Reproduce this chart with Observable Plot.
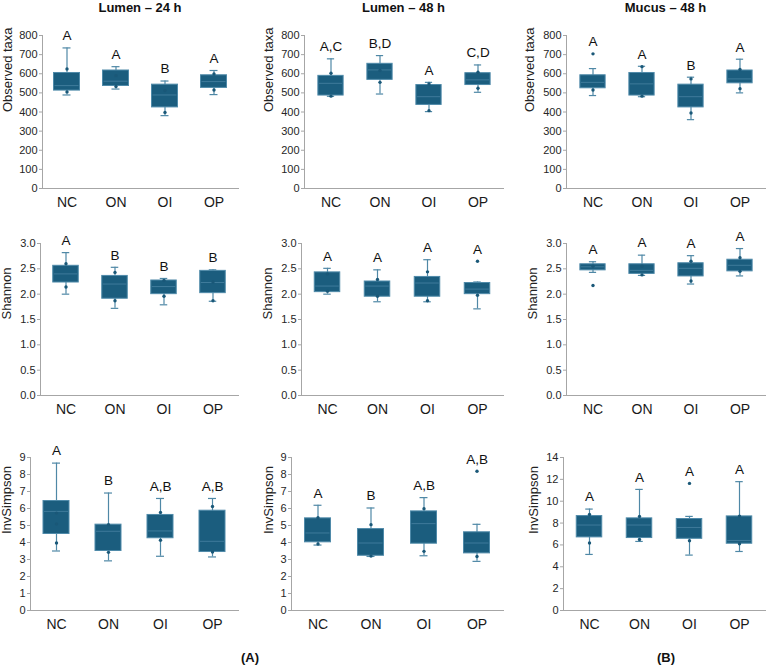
<!DOCTYPE html>
<html><head><meta charset="utf-8">
<script src="https://cdn.jsdelivr.net/npm/d3@7"></script>
<script src="https://cdn.jsdelivr.net/npm/@observablehq/plot@0.6"></script>
<style>
body{margin:0;background:#fff;}
#chart{position:relative;width:767px;height:666px;overflow:hidden;font-family:"Liberation Sans",Arial,sans-serif;background:#fff;}
.ttl{position:absolute;font-weight:bold;font-size:13px;line-height:14px;text-align:center;color:#111;white-space:nowrap;width:200px;}
#chart svg{position:absolute;overflow:visible;}
</style></head><body><div id="chart"></div>
<script>
// ---------- DATA ----------
const groups = ["NC", "ON", "OI", "OP"];
const columnTitles = ["Lumen – 24 h", "Lumen – 48 h", "Mucus – 48 h"];
const metricLabels = ["Observed taxa", "Shannon", "InvSimpson"];
const partLabels = ["(A)", "(B)"];

// panels in row-major order: Observed (L24, L48, M48), Shannon (...), InvSimpson (...)
const whiskerLow = [
  [489, 520, 381, 491], [482, 494, 402, 503], [486, 480, 360, 500],
  [2.00, 1.72, 1.79, 1.86], [2.00, 1.85, 1.85, 1.71], [2.43, 2.37, 2.20, 2.36],
  [3.50, 2.92, 3.19, 3.15], [3.85, 3.18, 3.22, 2.89], [5.13, 6.32, 5.07, 5.40]
];
const quartile1 = [
  [512, 536, 424, 526], [486, 568, 437, 541], [524, 486, 424, 550],
  [2.23, 1.91, 2.00, 2.02], [2.04, 1.95, 1.95, 2.00], [2.47, 2.40, 2.35, 2.45],
  [4.50, 3.50, 4.25, 3.44], [4.01, 3.22, 3.93, 3.36], [6.69, 6.63, 6.56, 6.11]
];
const medianVal = [
  [538, 561, 489, 559], [550, 620, 480, 568], [555, 547, 480, 573],
  [2.40, 2.20, 2.15, 2.23], [2.16, 2.16, 2.22, 2.10], [2.54, 2.47, 2.51, 2.57],
  [5.83, 4.66, 4.68, 4.07], [4.56, 3.97, 5.11, 3.97], [7.82, 7.82, 7.60, 6.41]
];
const quartile3 = [
  [604, 617, 543, 592], [589, 652, 541, 603], [592, 604, 543, 617],
  [2.56, 2.36, 2.27, 2.46], [2.43, 2.25, 2.34, 2.22], [2.59, 2.59, 2.61, 2.68],
  [6.44, 5.05, 5.62, 5.87], [5.42, 4.79, 5.83, 4.60], [8.64, 8.43, 8.37, 8.61]
];
const whiskerHigh = [
  [735, 637, 562, 617], [678, 695, 555, 646], [627, 639, 582, 676],
  [2.82, 2.53, 2.31, 2.48], [2.51, 2.48, 2.68, 2.24], [2.64, 2.77, 2.76, 2.90],
  [8.67, 6.91, 6.59, 6.59], [6.19, 6.03, 6.64, 5.07], [9.28, 11.08, 8.61, 11.79]
];
const samplePoints = [
  [[625, 505], [590, 533], [512, 398], [599, 515]],
  [[603, 483], [617, 555], [547, 407], [608, 524]],
  [[704, 515], [637, 483], [573, 395], [622, 522]],
  [[2.60, 2.14], [2.43, 1.87], [2.27, 1.96], [2.24, 1.87]],
  [[2.40, 2.06], [2.29, 1.96], [2.44, 1.87], [2.65, 1.98]],
  [[2.55, 2.17], [2.55, 2.38], [2.65, 2.26], [2.72, 2.45]],
  [[5.73, 5.09, 3.97], [5.05, 3.42], [5.77, 4.13], [6.12, 3.44]],
  [[5.46, 3.91], [5.05, 3.20], [5.99, 3.48], [8.19, 3.18]],
  [[8.79, 6.17], [8.61, 6.50], [11.63, 6.38], [8.64, 6.11]]
];
const letters = [
  ["A", "A", "B", "A"], ["A,C", "B,D", "A", "C,D"], ["A", "A", "B", "A"],
  ["A", "B", "B", "B"], ["A", "A", "A", "A"], ["A", "A", "A", "A"],
  ["A", "B", "A,B", "A,B"], ["A", "B", "A,B", "A,B"], ["A", "A", "A", "A"]
];
const yMax = [800, 800, 800, 3, 3, 3, 9, 9, 14];
const obsTicks = [0, 100, 200, 300, 400, 500, 600, 700, 800];
const shannonTicks = [0, 0.5, 1.0, 1.5, 2.0, 2.5, 3.0];
const invTicks = [0, 1, 2, 3, 4, 5, 6, 7, 8, 9];
const invTicksMucus = [0, 2, 4, 6, 8, 10, 12, 14];
const panelTicks = [obsTicks, obsTicks, obsTicks, shannonTicks, shannonTicks, shannonTicks, invTicks, invTicks, invTicksMucus];

// ---------- LAYOUT ----------
const frameY = [[35, 188], [243, 395], [457, 610]];
const frameX = [
  [[42, 238], [304, 503], [566, 765]],
  [[40, 238], [301, 503], [566, 765]],
  [[30, 238], [291, 503], [563, 765]]
];
const labelOffset = [[35, 36, 37], [34, 34, 34], [24, 23, 30]];
const FONT = '"Liberation Sans", Arial, sans-serif';
const BOX = "#1b5d7e", EDGE = "#4f8aa9", WH = "#4f88a6", MED = "#3f7b9b", DOT = "#1a5878", AXIS = "#a6a6a6";
const MT = 22, MB = 26, ML = 44, MR = 2;

const root = document.getElementById("chart");

for (let r = 0; r < 3; r++) {
  for (let c = 0; c < 3; c++) {
    const p = r * 3 + c;
    const [x0, x1] = frameX[r][c];
    const [y0, y1] = frameY[r];
    const W = ML + (x1 - x0) + MR, H = MT + (y1 - y0) + MB;
    const bw = (x1 - x0) / 4;
    const boxInset = (bw - 26) / 2, capInset = (bw - 8) / 2;
    const rows = groups.map((g, i) => ({
      g, lo: whiskerLow[p][i], q1: quartile1[p][i], med: medianVal[p][i], q3: quartile3[p][i], hi: whiskerHigh[p][i]
    }));
    const pts = groups.flatMap((g, i) => samplePoints[p][i].map(v => ({g, v})));
    const labs = groups.map((g, i) => ({g, t: letters[p][i], top: Math.max(whiskerHigh[p][i], ...samplePoints[p][i])}));
    const fmt = r === 1 ? d3.format(".1f") : d3.format("d");
    const svg = Plot.plot({
      width: W, height: H,
      marginTop: MT, marginBottom: MB, marginLeft: ML, marginRight: MR,
      style: {fontFamily: FONT, background: "transparent", overflow: "visible"},
      x: {domain: groups, padding: 0},
      y: {domain: [0, yMax[p]]},
      marks: [
        Plot.axisY({ticks: panelTicks[p], tickFormat: fmt, tickSize: 3, tickPadding: 2, fontSize: 11, stroke: AXIS, fill: "#262626", label: null}),
        Plot.axisX({tickSize: 0, tickPadding: 9, fontSize: 14, fill: "#1a1a1a", label: null}),
        Plot.frame({anchor: "left", stroke: AXIS}),
        Plot.frame({anchor: "bottom", stroke: AXIS}),
        Plot.ruleX(rows, {x: "g", y1: "lo", y2: "hi", stroke: WH, strokeWidth: 1.2}),
        Plot.tickY(rows, {x: "g", y: "lo", stroke: WH, strokeWidth: 1.2, insetLeft: capInset, insetRight: capInset}),
        Plot.tickY(rows, {x: "g", y: "hi", stroke: WH, strokeWidth: 1.2, insetLeft: capInset, insetRight: capInset}),
        Plot.barY(rows, {x: "g", y1: "q1", y2: "q3", fill: BOX, stroke: EDGE, strokeWidth: 1, insetLeft: boxInset, insetRight: boxInset}),
        Plot.tickY(rows, {x: "g", y: "med", stroke: MED, strokeWidth: 1, insetLeft: boxInset + 1, insetRight: boxInset + 1}),
        Plot.dot(pts, {x: "g", y: "v", r: 1.7, fill: DOT, stroke: null}),
        Plot.text(labs, {x: "g", y: "top", text: "t", dy: -12, fontSize: 13.5, fill: "#111"}),
        Plot.text([metricLabels[r]], {frameAnchor: "left", text: d => d, rotate: -90, dx: -labelOffset[r][c], fontSize: 13, fill: "#222"})
      ]
    });
    svg.style.left = (x0 - ML) + "px";
    svg.style.top = (y0 - MT) + "px";
    root.appendChild(svg);
  }
}

// column titles
for (let c = 0; c < 3; c++) {
  const [x0, x1] = frameX[0][c];
  const d = document.createElement("div");
  d.className = "ttl";
  d.textContent = columnTitles[c];
  d.style.left = ((x0 + x1) / 2 - 100) + "px";
  d.style.top = "1px";
  root.appendChild(d);
}
// part labels
const partX = [250, 666];
partLabels.forEach((t, i) => {
  const d = document.createElement("div");
  d.className = "ttl";
  d.textContent = t;
  d.style.left = (partX[i] - 100) + "px";
  d.style.top = "651px";
  root.appendChild(d);
});
</script></body></html>
